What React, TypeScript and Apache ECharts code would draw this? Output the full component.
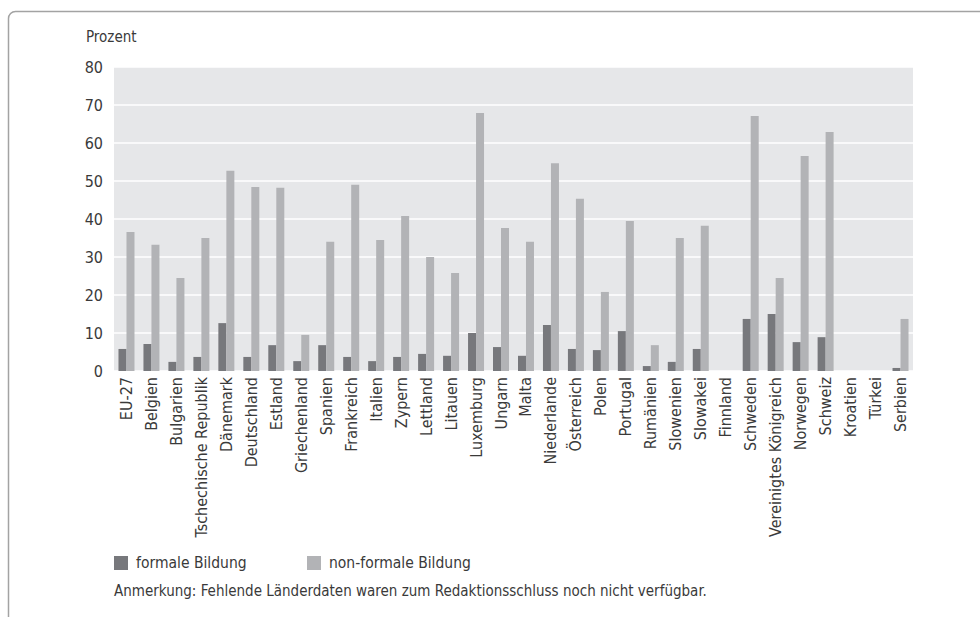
import React, { useEffect, useRef } from "react";
import * as echarts from "echarts";

const categories = [
  "EU-27", "Belgien", "Bulgarien", "Tschechische Republik", "Dänemark", "Deutschland",
  "Estland", "Griechenland", "Spanien", "Frankreich", "Italien", "Zypern", "Lettland",
  "Litauen", "Luxemburg", "Ungarn", "Malta", "Niederlande", "Österreich", "Polen",
  "Portugal", "Rumänien", "Slowenien", "Slowakei", "Finnland", "Schweden",
  "Vereinigtes Königreich", "Norwegen", "Schweiz", "Kroatien", "Türkei", "Serbien",
];

const formale = [
  5.8, 7.1, 2.4, 3.7, 12.6, 3.7, 6.8, 2.6, 6.8, 3.7, 2.6, 3.7, 4.5, 4.0, 10.0, 6.3,
  4.0, 12.1, 5.8, 5.5, 10.5, 1.3, 2.4, 5.8, null, 13.7, 15.0, 7.6, 8.9, null, null, 0.8,
];

const nonFormale = [
  36.6, 33.2, 24.5, 35.0, 52.7, 48.4, 48.2, 9.5, 34.0, 49.0, 34.5, 40.8, 30.0, 25.8,
  67.9, 37.6, 34.0, 54.7, 45.3, 20.8, 39.5, 6.8, 35.0, 38.2, null, 67.1, 24.5, 56.6,
  62.9, null, null, 13.7,
];

const seriesNames = ["formale Bildung", "non-formale Bildung"];
const yTicks = { min: 0, max: 80, interval: 10 };
const axisTitle = "Prozent";
const note = "Anmerkung: Fehlende Länderdaten waren zum Redaktionsschluss noch nicht verfügbar.";

const FONT = "'DejaVu Sans Condensed', 'Liberation Sans', sans-serif";
const TEXT = "#3a3a3a";
const DARK = "#77787c";
const LIGHT = "#b2b3b6";

export default function App() {
  const ref = useRef<HTMLDivElement>(null);

  useEffect(() => {
    if (!ref.current) return;
    const chart = echarts.init(ref.current, null, { renderer: "svg" });
    chart.setOption({
      animation: false,
      backgroundColor: "#ffffff",
      textStyle: { fontFamily: FONT },
      grid: {
        left: 114,
        top: 67,
        width: 799,
        height: 304,
        show: true,
        backgroundColor: "#e6e7e9",
        borderWidth: 0,
        containLabel: false,
      },
      legend: [
        {
          data: [seriesNames[0]],
          left: 114,
          top: 555,
          itemWidth: 14,
          itemHeight: 14,
          icon: "rect",
          textStyle: { fontFamily: FONT, fontSize: 15.5, color: TEXT, padding: [0, 0, 0, 3] },
          padding: 0,
        },
        {
          data: [seriesNames[1]],
          left: 307,
          top: 555,
          itemWidth: 14,
          itemHeight: 14,
          icon: "rect",
          textStyle: { fontFamily: FONT, fontSize: 15.5, color: TEXT, padding: [0, 0, 0, 3] },
          padding: 0,
        },
      ],
      xAxis: {
        type: "category",
        data: categories,
        axisLine: { show: false },
        axisTick: { show: false },
        axisLabel: {
          interval: 0,
          rotate: 90,
          margin: 6,
          fontFamily: FONT,
          fontSize: 16,
          color: TEXT,
        },
      },
      yAxis: {
        type: "value",
        min: yTicks.min,
        max: yTicks.max,
        interval: yTicks.interval,
        axisLine: { show: false },
        axisTick: { show: false },
        axisLabel: { margin: 11, fontFamily: FONT, fontSize: 16, color: TEXT },
        splitLine: { show: true, lineStyle: { color: "#ffffff", width: 1.5 } },
      },
      series: [
        {
          name: seriesNames[0],
          type: "bar",
          data: formale,
          barWidth: 8,
          barGap: "0%",
          itemStyle: { color: DARK },
        },
        {
          name: seriesNames[1],
          type: "bar",
          data: nonFormale,
          barWidth: 8,
          barGap: "0%",
          itemStyle: { color: LIGHT },
        },
      ],
      graphic: [
        {
          type: "rect",
          shape: { x: 8.5, y: 11.5, width: 1200, height: 900, r: [7, 0, 0, 0] },
          style: { fill: "none", stroke: "#a3a3a3", lineWidth: 1.5 },
          silent: true,
        },
        {
          type: "text",
          left: 86,
          top: 29,
          style: { text: axisTitle, fontFamily: FONT, fontSize: 15, fill: TEXT },
        },
        {
          type: "text",
          left: 114,
          top: 583,
          style: { text: note, fontFamily: FONT, fontSize: 15, fill: TEXT },
        },
      ],
    });
    return () => chart.dispose();
  }, []);

  return (
    <div
      ref={ref}
      style={{ position: "fixed", left: 0, top: 0, width: 980, height: 617 }}
    />
  );
}
